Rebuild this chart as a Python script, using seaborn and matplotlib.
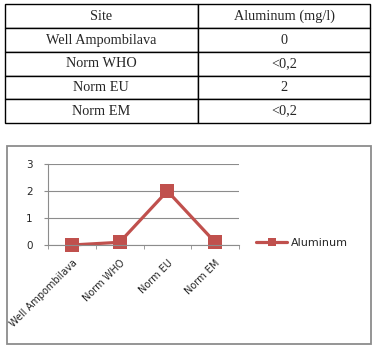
import matplotlib
matplotlib.use("Agg")
import matplotlib.pyplot as plt
import seaborn as sns
import pandas as pd
from matplotlib.patches import Rectangle

# data
sites = ["Well Ampombilava", "Norm WHO", "Norm EU", "Norm EM"]
table_values = ["0", "<0,2", "2", "<0,2"]
aluminum = [0, 0.1, 2, 0.1]
table_header = ["Site", "Aluminum (mg/l)"]
yticks = [0, 1, 2, 3]

sns.set_style("white")
plt.rcParams["font.family"] = ["DejaVu Sans"]

W, H = 375, 349
fig = plt.figure(figsize=(W / 100, H / 100), dpi=100)


def box(x0, y0, x1, y1):
    # pixel coords (top-left origin) -> figure fraction
    return [x0 / W, 1 - y1 / H, (x1 - x0) / W, (y1 - y0) / H]


# table on top
tax = fig.add_axes(box(4.5, 4.5, 370, 123))
tax.axis("off")
cells = [[s, v] for s, v in zip(sites, table_values)]
tbl = tax.table(cellText=cells, colLabels=table_header, cellLoc="center",
                bbox=[0, 0, 1, 1], colWidths=[193.5 / 365.5, 172 / 365.5])
tbl.auto_set_font_size(False)
for (r, c), cell in tbl.get_celld().items():
    cell.set_edgecolor("black")
    cell.set_linewidth(1.0)
    cell.set_facecolor("white")
    cell.get_text().set_fontfamily("Liberation Serif")
    cell.get_text().set_fontsize(10.3)

# chart frame
fig.patches.append(Rectangle((6.5 / W, 1 - 344 / H), (371 - 6.5) / W, (344 - 145.5) / H,
                             transform=fig.transFigure, fill=False,
                             edgecolor="#8c8c8c", linewidth=1.3))

ax = fig.add_axes(box(48, 164, 239, 245))
df = pd.DataFrame({"Site": sites, "Aluminum": aluminum})
line_color = "#C0504D"
sns.lineplot(data=df, x="Site", y="Aluminum", ax=ax, color=line_color,
             marker="s", markersize=10.5, markeredgewidth=0, linewidth=2.3,
             label="Aluminum", sort=False)
for ln in ax.lines:
    ln.set_clip_on(False)

ax.set_xlim(-0.5, len(sites) - 0.5)
ax.set_ylim(0, 3)
ax.set_yticks(yticks)
ax.set_yticklabels([str(t) for t in yticks], fontsize=7.5)
ax.grid(axis="y", color="#8c8c8c", linewidth=0.8)
ax.set_axisbelow(True)
for s in ["top", "right"]:
    ax.spines[s].set_visible(False)
ax.spines["left"].set_color("#8c8c8c")
ax.spines["bottom"].set_color("#8c8c8c")
ax.spines["left"].set_linewidth(0.8)
ax.spines["bottom"].set_linewidth(0.8)

ax.set_xticks(range(len(sites)))
ax.set_xticklabels(sites, rotation=45, ha="right", rotation_mode="anchor", fontsize=7)
ax.set_xticks([i - 0.5 for i in range(len(sites) + 1)], minor=True)
ax.tick_params(axis="x", which="major", length=0, pad=9)
ax.tick_params(axis="x", which="minor", length=3, color="#8c8c8c", direction="out", bottom=True)
ax.tick_params(axis="y", length=3, color="#8c8c8c", left=True, pad=8)
ax.set_xlabel("")
ax.set_ylabel("")

ax.legend_.remove()
handles, labels = ax.get_legend_handles_labels()
fig.legend(handles, labels, loc="center left", bbox_to_anchor=(246 / W, 1 - 243 / H),
           frameon=False, fontsize=8, handlelength=2.8, handletextpad=0.3,
           markerscale=0.55)

fig.savefig("out.png", dpi=100)
